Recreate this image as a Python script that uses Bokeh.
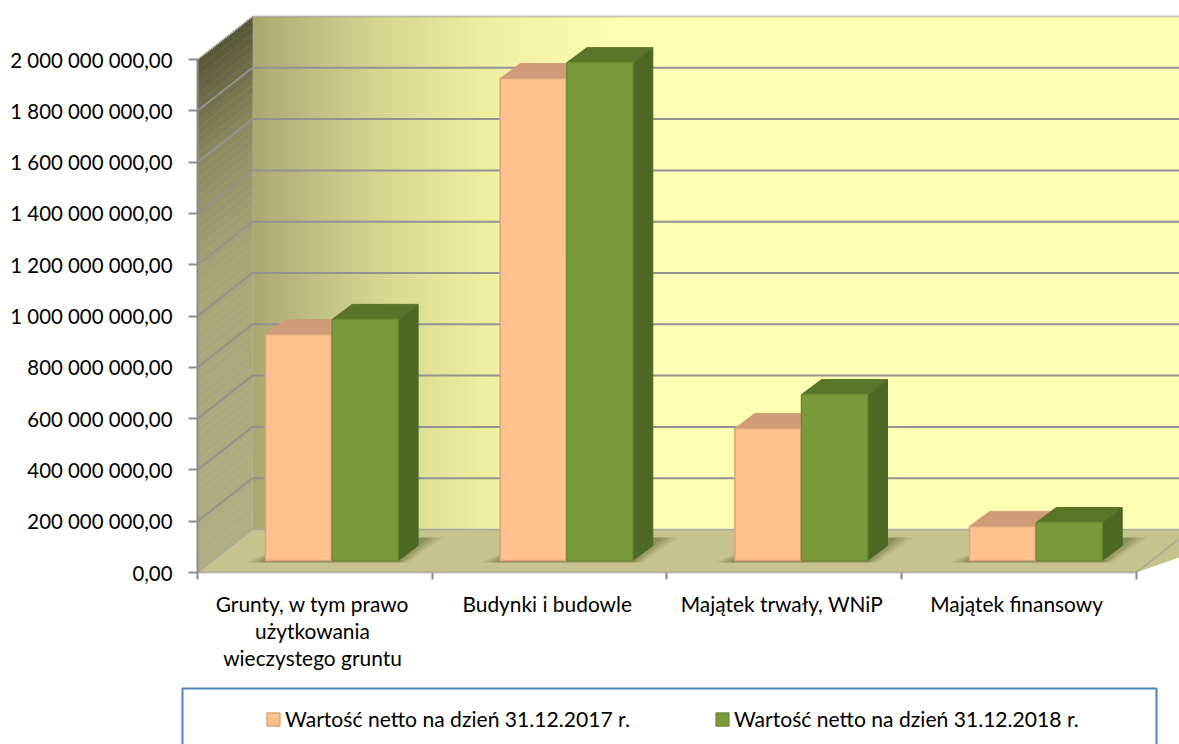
from bokeh.plotting import figure
from bokeh.embed import file_html
from bokeh.resources import INLINE
from bokeh.models import Range1d, FixedTicker, Legend, LegendItem, BoxAnnotation

categories = ["Grunty, w tym prawo\nużytkowania\nwieczystego gruntu", "Budynki i budowle", "Majątek trwały, WNiP", "Majątek finansowy"]
series_2017 = [881e6, 1879e6, 515e6, 133e6]
series_2018 = [940e6, 1941e6, 647e6, 148e6]
legend_labels = ["Wartość netto na dzień 31.12.2017 r.", "Wartość netto na dzień 31.12.2018 r."]
y_ticks = [i * 200e6 for i in range(11)]
y_labels = ["0,00", "200 000 000,00", "400 000 000,00", "600 000 000,00", "800 000 000,00", "1 000 000 000,00",
            "1 200 000 000,00", "1 400 000 000,00", "1 600 000 000,00", "1 800 000 000,00", "2 000 000 000,00"]

PXX = 234.7       # px per category
PXY = 51.3 / 200e6  # px per value
ORIGIN_X, ORIGIN_Y = 197, 572   # canvas px of the axes' crossing
W, H = 1179, 744
WALL_DX, WALL_DY = 55, 43
FONT = "Lato"

p = figure(width=W, height=H, output_backend="svg", toolbar_location=None,
           x_range=Range1d(-ORIGIN_X / PXX, (W - ORIGIN_X) / PXX),
           y_range=Range1d(-(H - ORIGIN_Y) / PXY, ORIGIN_Y / PXY),
           min_border_left=0, min_border_right=0, min_border_top=0, min_border_bottom=0)
p.grid.visible = False
p.outline_line_color = None
p.background_fill_color = "#ffffff"


def pt(x, v, dx=0, dy=0):
    return x + dx / PXX, v + dy / PXY


def poly(points):
    xs, ys = zip(*[pt(*q) for q in points])
    return list(xs), list(ys)


def mix(c1, c2, t):
    return "#%02x%02x%02x" % tuple(round(a + (b - a) * t) for a, b in zip(c1, c2))


TOP = y_ticks[-1]
XMAX = (W - ORIGIN_X) / PXX + 0.1

# back wall: horizontal gradient
stops = [(0, (170, 170, 112)), (40, (184, 184, 124)), (120, (212, 212, 144)), (230, (238, 238, 160)), (370, (255, 255, 180))]
steps = 93
for i in range(steps):
    a, b = 4 * i, 4 * (i + 1)
    for (s0, c0), (s1, c1) in zip(stops, stops[1:]):
        if s0 <= a < s1:
            col = mix(c0, c1, (a - s0) / (s1 - s0))
            break
    else:
        col = "#ffffb4"
    xs, ys = poly([(0, 0, WALL_DX + a, WALL_DY), (0, 0, WALL_DX + b + 1, WALL_DY),
                   (0, TOP, WALL_DX + b + 1, WALL_DY), (0, TOP, WALL_DX + a, WALL_DY)])
    p.patch(xs, ys, fill_color=col, line_color=None)
xs, ys = poly([(0, 0, WALL_DX + 370, WALL_DY), (XMAX, 0, WALL_DX, WALL_DY),
               (XMAX, TOP, WALL_DX, WALL_DY), (0, TOP, WALL_DX + 370, WALL_DY)])
p.patch(xs, ys, fill_color="#ffffb4", line_color=None)

# left wall: vertical gradient
sstops = [(0.0, (176, 175, 130)), (0.55, (165, 165, 118)), (0.78, (140, 140, 96)), (0.92, (104, 104, 68)), (1.0, (84, 84, 54))]
n = 60
for i in range(n):
    t0, t1 = i / n, (i + 1) / n
    for (s0, c0), (s1, c1) in zip(sstops, sstops[1:]):
        if s0 <= t0 <= s1:
            col = mix(c0, c1, (t0 - s0) / (s1 - s0))
            break
    xs, ys = poly([(0, TOP * t0), (0, TOP * t0, WALL_DX, WALL_DY), (0, TOP * t1, WALL_DX, WALL_DY), (0, TOP * t1)])
    p.patch(xs, ys, fill_color=col, line_color=col, line_width=0.5)

# floor
xs, ys = poly([(0, 0), (0, 0, WALL_DX, WALL_DY), (XMAX, 0, WALL_DX, WALL_DY), (4.0, 0)])
p.patch(xs, ys, fill_color="#c6c48c", line_color=None)

# gridlines
for v in y_ticks[1:-1]:
    p.line([pt(0, v)[0], pt(0, v, WALL_DX, WALL_DY)[0], XMAX], [v, pt(0, v, 0, WALL_DY)[1], pt(0, v, 0, WALL_DY)[1]],
           line_color="#929292", line_width=2)
gx = pt(0, 0, WALL_DX, 0)[0]
p.line([gx, XMAX], [pt(0, TOP, 0, WALL_DY)[1]] * 2, line_color="#8f8f8f", line_width=2, line_dash="1 1")
p.line([0, gx], [TOP, pt(0, TOP, 0, WALL_DY)[1]], line_color="#d0d0d0", line_width=2, line_dash="1 1")
p.line([0, gx, XMAX], [0, pt(0, 0, 0, WALL_DY)[1], pt(0, 0, 0, WALL_DY)[1]], line_color="#a8a8a0", line_width=1.5)
p.line([4.0, pt(4.0, 0, 55, 0)[0]], [0, pt(0, 0, 0, 43)[1]], line_color="#999999", line_width=2, line_dash="1 1")

BAR_W = 66 / PXX
OFFS = 68 / PXX
FRONT_DY = 12
DEP_X, DEP_Y = 20, 15

# shadows on the floor
for k in range(4):
    x0 = k + OFFS
    x1 = x0 + 2 * BAR_W
    for grow, a in ((20, 0.10), (15, 0.14), (10, 0.18), (5, 0.2)):
        xs, ys = poly([(x0, 0, -grow, FRONT_DY - 2), (x1, 0, grow // 2, FRONT_DY - 2),
                       (x1, 0, DEP_X + grow + 6, FRONT_DY + DEP_Y + 8), (x0, 0, DEP_X + grow, FRONT_DY + DEP_Y + 8)])
        p.patch(xs, ys, fill_color="#5d5a30", fill_alpha=a, line_color=None)

front_base = FRONT_DY / PXY
peach = dict(front="#ffc28e", top="#d19b77", side="#b98560", line="#d9a47a")
green = dict(front="#7a9a3c", top="#58752a", side="#4d6822", line="#6c8c32")
legend_renderers = []
for s, (vals, st) in enumerate(((series_2017, peach), (series_2018, green))):
    for k, v in enumerate(vals):
        x0 = k + OFFS + s * (BAR_W + 0.6 / PXX)
        x1 = x0 + BAR_W
        top = v + front_base
        xs, ys = poly([(x1, front_base), (x1, front_base, DEP_X, DEP_Y), (x1, top, DEP_X, DEP_Y), (x1, top)])
        p.patch(xs, ys, fill_color=st["side"], line_color=st["side"], line_width=1)
        xs, ys = poly([(x0, top), (x1, top), (x1, top, DEP_X, DEP_Y), (x0, top, DEP_X, DEP_Y)])
        p.patch(xs, ys, fill_color=st["top"], line_color=st["top"], line_width=1)
    lefts = [k + OFFS + s * (BAR_W + 0.6 / PXX) for k in range(4)]
    r = p.quad(left=lefts, right=[l + BAR_W for l in lefts], bottom=[front_base] * 4,
               top=[v + front_base for v in vals], fill_color=st["front"], line_color=st["line"], line_width=1.5)
    legend_renderers.append(r)

# axes
ya = p.yaxis[0]
ya.fixed_location = 0
ya.ticker = FixedTicker(ticks=y_ticks)
ya.bounds = (0, TOP)
ya.major_label_overrides = {v: s for v, s in zip(y_ticks, y_labels)}
ya.major_label_text_font = FONT
ya.major_label_text_font_size = "20.4px"
ya.major_label_text_color = "#000000"
ya.major_label_standoff = 16
ya.major_tick_in = 0
ya.major_tick_out = 9
ya.minor_tick_line_color = None
ya.major_tick_line_color = "#8c8c8c"
ya.major_tick_line_width = 2
ya.axis_line_color = "#8c8c8c"
ya.axis_line_width = 2

LABEL_POS = [i + 0.49 for i in range(4)]
xa = p.xaxis[0]
xa.fixed_location = 0
xa.ticker = FixedTicker(ticks=LABEL_POS, minor_ticks=[0, 1, 2, 3, 4])
xa.bounds = (0, 4)
xa.major_label_overrides = {pos: c for pos, c in zip(LABEL_POS, categories)}
xa.major_label_text_font = FONT
xa.major_label_text_font_size = "20.9px"
xa.major_label_text_color = "#000000"
xa.major_label_text_line_height = 1.09
xa.major_label_standoff = 11
xa.major_tick_line_color = None
xa.major_tick_in = 0
xa.major_tick_out = 0
xa.minor_tick_in = 0
xa.minor_tick_out = 7
xa.minor_tick_line_color = "#8c8c8c"
xa.minor_tick_line_width = 2
xa.axis_line_color = "#8c8c8c"
xa.axis_line_width = 2
xa.axis_line_dash = "1 1"

box = BoxAnnotation(left=(182 - ORIGIN_X) / PXX, right=(1156 - ORIGIN_X) / PXX,
                    top=(ORIGIN_Y - 688) / PXY, bottom=(ORIGIN_Y - 760) / PXY,
                    fill_color="#ffffff", fill_alpha=1, line_color="#4f81bd", line_alpha=1, line_width=2)
p.add_layout(box)

legend = Legend(items=[LegendItem(label=l, renderers=[r]) for l, r in zip(legend_labels, legend_renderers)],
                orientation="horizontal", location=(265, 13))
legend.label_text_font = FONT
legend.label_text_font_size = "21.1px"
legend.label_text_color = "#000000"
legend.border_line_color = None
legend.background_fill_alpha = 0
legend.glyph_width = 16
legend.glyph_height = 16
legend.label_standoff = 4
legend.spacing = 84
legend.padding = 0
legend.margin = 0
p.add_layout(legend)

open("out.html", "w").write(file_html(p, INLINE))
